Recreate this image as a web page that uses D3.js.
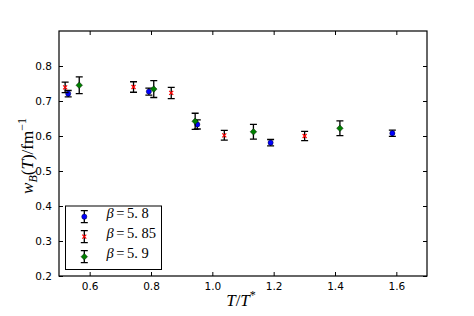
<!DOCTYPE html>
<html><head><meta charset="utf-8">
<script src="https://cdn.jsdelivr.net/npm/d3@7"></script>
<style>body{margin:0;background:#fff}</style>
</head><body><svg id="c" width="474" height="316"></svg>
<script>
const xTicks=[0.6,0.8,1.0,1.2,1.4,1.6];
const yTicks=[0.2,0.3,0.4,0.5,0.6,0.7,0.8];
const betaLabels=["5. 8","5. 85","5. 9"];
const t58=[0.530,0.793,0.951,1.190,1.587];
const w58=[0.721,0.727,0.633,0.581,0.608];
const e58=[0.009,0.010,0.013,0.009,0.009];
const t585=[0.520,0.743,0.866,1.039,1.301];
const w585=[0.739,0.740,0.723,0.602,0.600];
const e585=[0.015,0.015,0.016,0.014,0.013];
const t59=[0.566,0.809,0.944,1.134,1.416];
const w59=[0.745,0.734,0.642,0.612,0.622];
const e59=[0.024,0.024,0.023,0.021,0.021];

const colors=["#0000ff","#ff0000","#007f00"];
const shapes=["circle","cross","diamond"];
const sets=[[t58,w58,e58],[t585,w585,e585],[t59,w59,e59]];

const svg=d3.select("#c");
const L=59,R=427,T=31,B=276;
const x=d3.scaleLinear().domain([0.5,1.7]).range([L,R]);
const y=d3.scaleLinear().domain([0.2,0.9]).range([B,T]);
const tickFont="'DejaVu Sans', sans-serif";
const serif="'Liberation Serif','DejaVu Serif',serif";

function axis(gen,tr,ticks,fmt,show){
  const g=svg.append("g").attr("transform",tr).call(gen.tickValues(ticks).tickFormat(show?fmt:()=>"").tickSizeInner(-4).tickSizeOuter(0).tickPadding(7));
  g.select(".domain").remove();
  g.selectAll("line").attr("stroke","#000").attr("stroke-width",1);
  g.selectAll("text").attr("font-family",tickFont).attr("font-size",10.5).attr("fill","#000");
  return g;
}
axis(d3.axisBottom(x),`translate(0,${B})`,xTicks,d3.format(".1f"),true);
axis(d3.axisTop(x),`translate(0,${T})`,xTicks,d3.format(".1f"),false);
axis(d3.axisLeft(y),`translate(${L},0)`,yTicks,d3.format(".1f"),true);
axis(d3.axisRight(y),`translate(${R},0)`,yTicks,d3.format(".1f"),false);

svg.append("rect").attr("x",L).attr("y",T).attr("width",R-L).attr("height",B-T)
  .attr("fill","none").attr("stroke","#000").attr("stroke-width",1.2);

function marker(g,cx,cy,i){
  const c=colors[i];
  if(shapes[i]==="circle"){
    g.append("circle").attr("cx",cx).attr("cy",cy).attr("r",2.6).attr("fill",c).attr("stroke","#000").attr("stroke-width",0.4);
  }else if(shapes[i]==="diamond"){
    const s=3.3;
    g.append("path").attr("d",`M${cx},${cy-s}L${cx+s},${cy}L${cx},${cy+s}L${cx-s},${cy}Z`).attr("fill",c).attr("stroke","#000").attr("stroke-width",0.4);
  }else{
    const s=2;
    g.append("path").attr("d",`M${cx-s},${cy-s}L${cx+s},${cy+s}M${cx-s},${cy+s}L${cx+s},${cy-s}`).attr("stroke",c).attr("stroke-width",1.2);
  }
}
function errbar(g,cx,y1,y2){
  const cw=3.5;
  g.append("path").attr("d",`M${cx},${y1}L${cx},${y2}M${cx-cw},${y1}L${cx+cw},${y1}M${cx-cw},${y2}L${cx+cw},${y2}`)
   .attr("stroke","#000").attr("stroke-width",1.3).attr("fill","none");
}
const pg=svg.append("g");
sets.forEach(([ts,ws,es],i)=>{
  ts.forEach((t,k)=>{
    const cx=x(t);
    errbar(pg,cx,y(ws[k]+es[k]),y(ws[k]-es[k]));
    marker(pg,cx,y(ws[k]),i);
  });
});

// legend
const lg=svg.append("g");
lg.append("rect").attr("x",65.5).attr("y",206).attr("width",96).attr("height",63.5).attr("fill","#fff").attr("stroke","#000").attr("stroke-width",1);
betaLabels.forEach((b,i)=>{
  const ly=216.7+i*20;
  errbar(lg,84.3,ly-6,ly+6);
  marker(lg,84.3,ly,i);
  const t=lg.append("text").attr("x",106.5).attr("y",ly+1).attr("font-family",serif).attr("font-size",14.5).attr("fill","#000");
  t.append("tspan").attr("font-style","italic").text("β");
  t.append("tspan").attr("dx",2.5).text("=");
  t.append("tspan").attr("dx",2.5).text(b);
});

// axis labels
const xl=svg.append("text").attr("x",241).attr("y",306).attr("text-anchor","middle").attr("font-family",serif).attr("font-size",17).attr("fill","#000");
xl.append("tspan").attr("font-style","italic").text("T");
xl.append("tspan").text("/");
xl.append("tspan").attr("font-style","italic").text("T");
xl.append("tspan").attr("font-size",12).attr("dy",-7).text("*");

const yl=svg.append("text").attr("transform","translate(33,156) rotate(-90)").attr("text-anchor","middle").attr("font-family",serif).attr("font-size",17).attr("fill","#000");
yl.append("tspan").attr("font-style","italic").text("w");
yl.append("tspan").attr("font-style","italic").attr("font-size",12).attr("dy",4).text("B");
yl.append("tspan").attr("dy",-4).text("(");
yl.append("tspan").attr("font-style","italic").text("T");
yl.append("tspan").text(")/fm");
yl.append("tspan").attr("font-size",12).attr("dy",-7).text("−1");
</script></body></html>
